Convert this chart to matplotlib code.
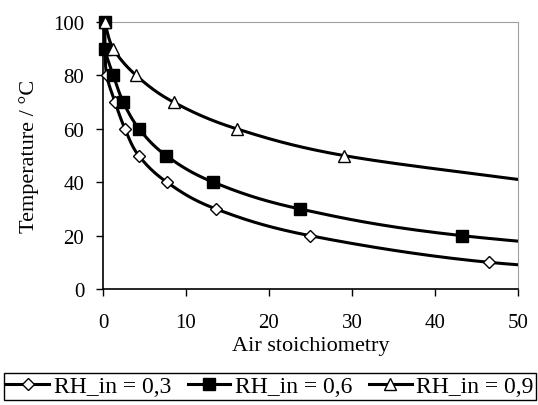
import matplotlib
matplotlib.use('Agg')
import matplotlib.pyplot as plt
import numpy as np

plt.rcParams['font.family'] = ['Liberation Serif', 'DejaVu Serif']

# air stoichiometry (x) vs temperature (y) for each inlet RH
x_03 = [0.2, 0.25, 0.45, 1.45, 2.65, 4.3, 7.7, 13.6, 24.9, 46.5]
t_03 = [100, 90, 80, 70, 60, 50, 40, 30, 20, 10]
x_06 = [0.2, 0.25, 1.25, 2.45, 4.35, 7.6, 13.3, 23.7, 43.2]
t_06 = [100, 90, 80, 70, 60, 50, 40, 30, 20]
x_09 = [0.2, 1.25, 4.0, 8.5, 16.1, 29.0]
t_09 = [100, 90, 80, 70, 60, 50]
# points that lie past the right edge of the axis (only the line shows)
tail_03 = ([75.0], [5])
tail_06 = ([82.0], [10])
tail_09 = ([52.5], [40])

labels = ['RH_in = 0,3', 'RH_in = 0,6', 'RH_in = 0,9']


def smooth(ax, xs, ys, n=40):
    # catmull-rom through the points in display space, like a spreadsheet smoothed line
    pts = ax.transData.transform(np.column_stack([xs, ys]))
    pts = np.vstack([2 * pts[0] - pts[1], pts, 2 * pts[-1] - pts[-2]])
    out = []
    for i in range(1, len(pts) - 2):
        p0, p1, p2, p3 = pts[i - 1], pts[i], pts[i + 1], pts[i + 2]
        t = np.linspace(0, 1, n)[:, None]
        seg = 0.5 * ((2 * p1) + (-p0 + p2) * t + (2 * p0 - 5 * p1 + 4 * p2 - p3) * t ** 2
                     + (-p0 + 3 * p1 - 3 * p2 + p3) * t ** 3)
        out.append(seg)
    out = np.vstack(out)
    return ax.transData.inverted().transform(out)


fig = plt.figure(figsize=(5.38, 4.06), dpi=100)
ax = fig.add_axes([0.1914, 0.2857, 0.7714, 0.6576])
ax.set_xlim(0, 50)
ax.set_ylim(0, 100)

series = [
    (x_03, t_03, tail_03, dict(marker='D', markersize=6.5, markerfacecolor='white')),
    (x_06, t_06, tail_06, dict(marker='s', markersize=9, markerfacecolor='black')),
    (x_09, t_09, tail_09, dict(marker='^', markersize=9, markerfacecolor='white')),
]
handles = []
for (xs, ys, tail, mk), lab in zip(series, labels):
    line = smooth(ax, list(xs) + tail[0], list(ys) + tail[1])
    ax.plot(line[:, 0], line[:, 1], color='black', lw=2.2, zorder=2)
    ax.plot(xs, ys, ls='none', markeredgecolor='black', markeredgewidth=1.0,
            clip_on=False, zorder=3, **mk)
    h, = ax.plot([], [], color='black', lw=2.2, markeredgecolor='black',
                 markeredgewidth=1.0, label=lab, **mk)
    handles.append(h)

ax.set_xticks([0, 10, 20, 30, 40, 50])
ax.set_yticks([0, 20, 40, 60, 80, 100])
ax.tick_params(labelsize=15, direction='out', length=5, width=1, colors='black')
ax.tick_params(axis='x', pad=12)
ax.tick_params(axis='y', pad=8.5)
ax.spines['top'].set_color('#a0a0a0')
ax.spines['right'].set_color('#a0a0a0')
ax.spines['left'].set_linewidth(1.2)
ax.spines['bottom'].set_linewidth(1.2)

ax.set_xlabel('Air stoichiometry', fontsize=16, labelpad=3)
ax.set_ylabel('Temperature / °C', fontsize=16, labelpad=10)

fig.legend(handles=handles, loc='center', mode='expand',
           bbox_to_anchor=(4 / 538, 3 / 406, 532 / 538, 31 / 406), ncol=3,
           fontsize=17, frameon=True, fancybox=False, edgecolor='black',
           handlelength=1.8, handletextpad=0.2, columnspacing=0.3, borderpad=0.1,
           borderaxespad=0.0, framealpha=1)

fig.savefig('out.png', dpi=100)
